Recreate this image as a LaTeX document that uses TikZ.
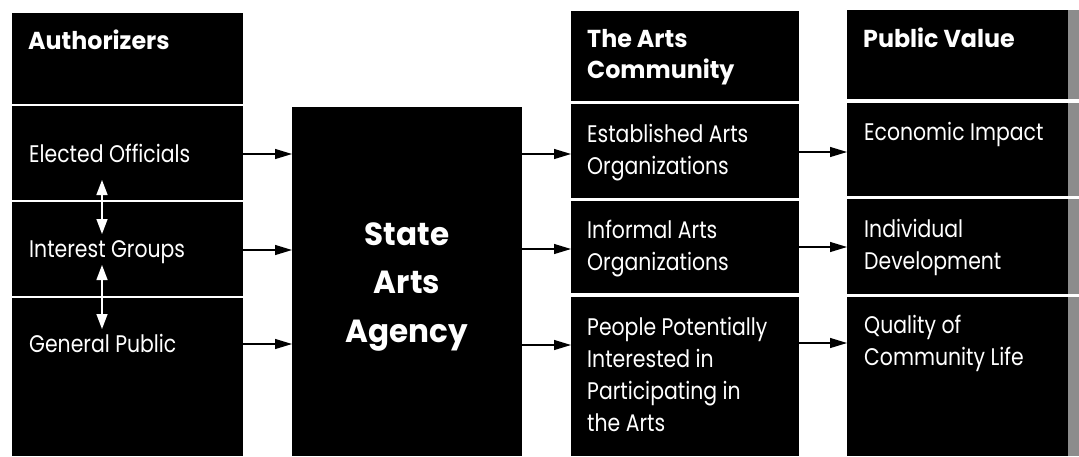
\documentclass[tikz,border=0pt]{standalone}
\usepackage{fontspec}
\newfontfamily\bodyf[FakeStretch=0.85]{Poppins}
\newfontfamily\headf[FakeStretch=0.97]{Poppins}
\usetikzlibrary{arrows.meta}
\begin{document}
\begin{tikzpicture}[x=1pt,y=-1pt,
  box/.style 2 args={fill=black,draw=none,inner sep=0pt,outer sep=0pt,anchor=north west,minimum width=#1,minimum height=#2},
  hd/.style={text=white,inner sep=0pt,anchor=base west,font=\headf\bfseries\fontsize{24.5}{31}\selectfont},
  tx/.style={text=white,inner sep=0pt,anchor=base west,font=\bodyf\fontsize{24}{32}\selectfont},
  big/.style={text=white,inner sep=0pt,anchor=base,font=\headf\bfseries\fontsize{32}{48.5}\selectfont},
  arr/.style={draw=black,line width=1.2pt,-{Triangle[length=17pt,width=10pt]}},
  warr/.style={draw=white,line width=1.4pt,{Triangle[length=15pt,width=11pt]}-{Triangle[length=15pt,width=11pt]}},
  strip/.style={fill=black!45}
]
\useasboundingbox (0,0) rectangle (1079,456);
% column 1
\node[box={231pt}{91pt}]  (ah) at (12,13) {};
\node[box={231pt}{94pt}]  (eo) at (12,106) {};
\node[box={231pt}{94pt}]  (ig) at (12,202) {};
\node[box={231pt}{158pt}] (gp) at (12,298) {};
% agency
\node[box={230pt}{349pt}] (sa) at (292,107) {};
% column 3
\node[box={228pt}{90pt}]  (ch) at (571,11) {};
\node[box={228pt}{94pt}]  (c1) at (571,104) {};
\node[box={228pt}{92pt}]  (c2) at (571,201) {};
\node[box={228pt}{159pt}] (c3) at (571,297) {};
% column 4
\node[box={232pt}{89pt}]  (vh) at (847,10) {};
\node[box={232pt}{93pt}]  (v1) at (847,103) {};
\node[box={232pt}{95pt}]  (v2) at (847,199) {};
\node[box={232pt}{159pt}] (v3) at (847,297) {};
% scanned edge strip
\fill[strip] ([xshift=-11pt]vh.north east) rectangle (vh.south east);
\fill[strip] ([xshift=-11pt]v1.north east) rectangle (v1.south east);
\fill[strip] ([xshift=-11pt]v2.north east) rectangle (v2.south east);
\fill[strip] ([xshift=-11pt]v3.north east) rectangle (v3.south east);
% texts
\node[hd] (tah) at (28,49) {Authorizers};
\node[tx] (teo) at (29,162) {Elected Officials};
\node[tx] (tig) at (29,257) {Interest Groups};
\node[tx] (tgp) at (29,352) {General Public};
\node[big] (tsa) at (407,245) {\parbox[t]{220pt}{\centering State\\Arts\\Agency}};
\node[hd] (tch) at (587,47) {\parbox[t]{205pt}{The Arts\\Community}};
\node[tx] (tc1) at (587,142) {\parbox[t]{210pt}{Established Arts\\Organizations}};
\node[tx] (tc2) at (587,238) {\parbox[t]{210pt}{Informal Arts\\Organizations}};
\node[tx] (tc3) at (587,335) {\parbox[t]{210pt}{People Potentially\\Interested in\\Participating in\\the Arts}};
\node[hd] (tvh) at (863,47) {Public Value};
\node[tx] (tv1) at (864,140) {Economic Impact};
\node[tx] (tv2) at (864,237) {\parbox[t]{200pt}{Individual\\Development}};
\node[tx] (tv3) at (864,333) {\parbox[t]{200pt}{Quality of\\Community Life}};
% white double arrows
\coordinate (d1a) at (102,180);
\coordinate (d1b) at (102,234);
\coordinate (d2a) at (102,265);
\coordinate (d2b) at (102,329);
\draw[warr] (d1a) -- (d1b);
\draw[warr] (d2a) -- (d2b);
% arrows col1 -> agency
\draw[arr] ([yshift=-48pt]eo.north east) -- ([yshift=-48pt]eo.north east -| sa.west);
\draw[arr] ([yshift=-48pt]ig.north east) -- ([yshift=-48pt]ig.north east -| sa.west);
\draw[arr] ([yshift=-46pt]gp.north east) -- ([yshift=-46pt]gp.north east -| sa.west);
% agency -> col3
\draw[arr] ([yshift=-50pt]c1.north west -| sa.east) -- ([yshift=-50pt]c1.north west);
\draw[arr] ([yshift=-48pt]c2.north west -| sa.east) -- ([yshift=-48pt]c2.north west);
\draw[arr] ([yshift=-48pt]c3.north west -| sa.east) -- ([yshift=-48pt]c3.north west);
% col3 -> col4
\draw[arr] ([yshift=-48pt]c1.north east) -- ([yshift=-48pt]c1.north east -| v1.west);
\draw[arr] ([yshift=-46pt]c2.north east) -- ([yshift=-46pt]c2.north east -| v2.west);
\draw[arr] ([yshift=-46pt]c3.north east) -- ([yshift=-46pt]c3.north east -| v3.west);
\end{tikzpicture}
\end{document}
